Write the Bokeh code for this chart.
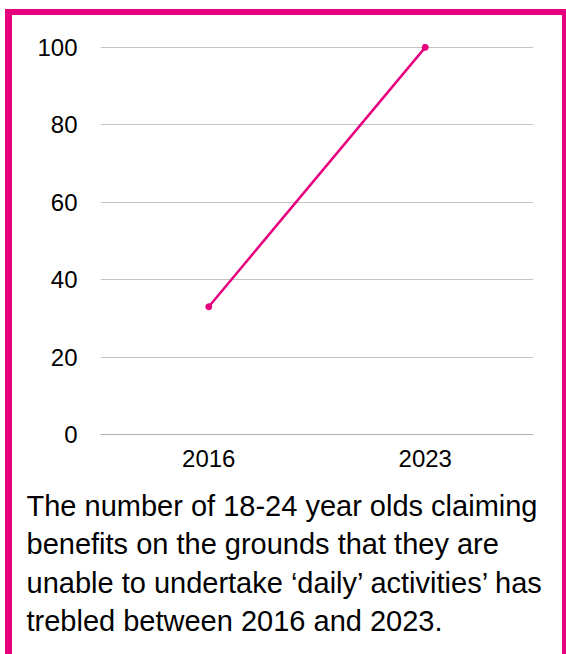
from bokeh.plotting import figure
from bokeh.models import Range1d, FixedTicker, Title
from bokeh.embed import file_html
from bokeh.resources import INLINE

years = ["2016", "2023"]
values = [33, 100]
y_ticks = [0, 20, 40, 60, 80, 100]
caption = [
    "The number of 18-24 year olds claiming",
    "benefits on the grounds that they are",
    "unable to undertake \u2018daily\u2019 activities\u2019 has",
    "trebled between 2016 and 2023.",
]

PINK = "#E6007E"
FONT = "Liberation Sans"

p = figure(x_range=years, y_range=Range1d(0, 101), width=561, height=645,
           output_backend="svg", toolbar_location=None,
           min_border_left=88, min_border_right=40, min_border_top=28,
           min_border_bottom=226)
p.styles = {"border-top": f"6px solid {PINK}", "border-left": f"7px solid {PINK}",
            "border-right": f"4px solid {PINK}", "margin-top": "9px",
            "margin-left": "5px"}
p.outline_line_color = None
p.background_fill_color = "white"
p.border_fill_color = "white"

p.line(years, values, line_color=PINK, line_width=2.5)
p.scatter(years, values, size=6, fill_color=PINK, line_color=PINK)

p.yaxis.ticker = FixedTicker(ticks=y_ticks)
p.yaxis.axis_line_color = None
p.yaxis.major_tick_line_color = None
p.yaxis.minor_tick_line_color = None
p.yaxis.major_label_standoff = 17
p.yaxis.major_label_text_font = FONT
p.yaxis.major_label_text_font_size = "24px"
p.yaxis.major_label_text_color = "#000000"

p.xaxis.axis_line_color = "#b0b0b0"
p.xaxis.major_tick_line_color = None
p.xaxis.minor_tick_line_color = None
p.xaxis.major_label_standoff = 9
p.xaxis.major_label_text_font = FONT
p.xaxis.major_label_text_font_size = "24px"
p.xaxis.major_label_text_color = "#000000"

p.xgrid.grid_line_color = None
p.ygrid.ticker = FixedTicker(ticks=y_ticks)
p.ygrid.grid_line_color = "#c4c4c4"

p.add_layout(Title(text="\n".join(caption), align="left", offset=-74,
                   text_font=FONT, text_font_size="29px", text_font_style="normal",
                   text_color="#000000", text_line_height=1.2, standoff=37),
             "below")

open("out.html", "w").write(file_html(p, INLINE))
